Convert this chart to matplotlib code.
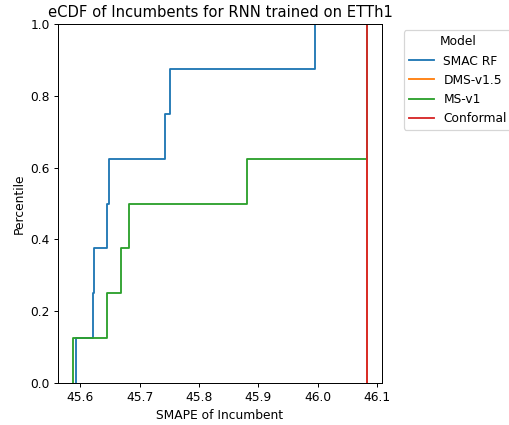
import numpy as np
import matplotlib.pyplot as plt

# incumbent SMAPE values per model (8 runs each)
smac_rf = [45.5936, 45.6222, 45.6232, 45.6455, 45.6480, 45.7427, 45.7510, 45.9945]
dms_v15 = [46.0827] * 8
ms_v1 = [45.5880, 45.6444, 45.6695, 45.6830, 45.8810, 46.0827, 46.0827, 46.0827]
conformal = [46.0827] * 8

models = ["SMAC RF", "DMS-v1.5", "MS-v1", "Conformal"]
colors = ["#1f77b4", "#ff7f0e", "#2ca02c", "#d62728"]
series = [smac_rf, dms_v15, ms_v1, conformal]

dpi = 88.5
fig = plt.figure(figsize=(509 / dpi, 425 / dpi), dpi=dpi)
ax = fig.add_axes([0.1145, 0.0995, 0.6354, 0.8433])

for name, vals, c in zip(models, series, colors):
    ax.ecdf(np.array(vals), color=c, label=name, linewidth=1.5)

allv = np.concatenate(series)
span = allv.max() - allv.min()
ax.set_xlim(allv.min() - 0.05 * span, allv.max() + 0.05 * span)
ax.set_ylim(0, 1)

ax.set_xlabel("SMAPE of Incumbent")
ax.set_ylabel("Percentile")
ax.set_title("eCDF of Incumbents for RNN trained on ETTh1")
ax.legend(title="Model", bbox_to_anchor=(1.05, 1), loc="upper left")

fig.savefig("out.png", dpi=dpi)
